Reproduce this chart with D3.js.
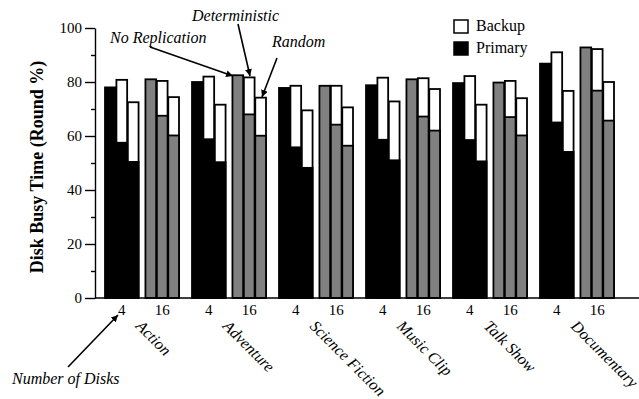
<!DOCTYPE html>
<html>
<head>
<meta charset="utf-8">
<script src="https://cdn.jsdelivr.net/npm/d3@7"></script>
<style>
  body { margin: 0; background: #fff; }
  svg { display: block; font-family: "Liberation Serif", "Times New Roman", serif; }
</style>
</head>
<body>
<svg id="chart" width="639" height="399"></svg>
<script>
// genres along the x axis
const categories = ["Action", "Adventure", "Science Fiction", "Music Clip", "Talk Show", "Documentary"];
const diskCounts = ["4", "16"];
const schemes = ["none", "det", "rand"];

// total busy time (primary + backup), per category: [4 disks, 16 disks]
const noReplication = [[78, 81], [80, 82.5], [77.8, 78.6], [78.8, 81], [79.6, 79.8], [86.8, 92.8]];
const detTotal = [[80.8, 80.4], [82, 81.7], [78.6, 78.6], [81.6, 81.4], [82.2, 80.4], [91, 92.2]];
const detPrimary = [[57.5, 67.5], [58.8, 68], [55.8, 64.2], [58.6, 67.2], [58.5, 67], [65, 76.8]];
const randTotal = [[72.5, 74.4], [71.6, 74.2], [69.5, 70.6], [72.8, 77.4], [71.6, 74], [76.7, 80]];
const randPrimary = [[50.4, 60.2], [50.3, 60.1], [48.2, 56.4], [51, 62], [50.6, 60.2], [54.1, 65.7]];

const yTicks = [0, 20, 40, 60, 80, 100];
const yMinorTicks = [10, 30, 50, 70, 90];

const svg = d3.select("#chart");

const x0 = d3.scaleBand()
    .domain(categories)
    .range([105, 614])
    .paddingInner(13 / 87);

const x1 = d3.scaleBand()
    .domain(diskCounts)
    .range([0, x0.bandwidth()])
    .paddingInner(0.17);

const x2 = d3.scaleBand()
    .domain(schemes)
    .range([0, x1.bandwidth()])
    .paddingInner(0.06);

const y = d3.scaleLinear()
    .domain([0, 100])
    .range([298, 28]);

// flatten into one record per bar
const bars = [];
categories.forEach((cat, i) => {
    diskCounts.forEach((dc, j) => {
        bars.push({ cat, dc, scheme: "none", total: noReplication[i][j], primary: noReplication[i][j] });
        bars.push({ cat, dc, scheme: "det", total: detTotal[i][j], primary: detPrimary[i][j] });
        bars.push({ cat, dc, scheme: "rand", total: randTotal[i][j], primary: randPrimary[i][j] });
    });
});

const primaryFill = dc => dc === "4" ? "#000" : "#808080";
const barX = d => x0(d.cat) + x1(d.dc) + x2(d.scheme);

const barG = svg.append("g")
    .attr("stroke", "#000")
    .attr("stroke-width", 1.8);

// backup part (whole bar white), then primary on top of it
barG.selectAll("rect.backup")
    .data(bars.filter(d => d.scheme !== "none"))
    .join("rect")
    .attr("class", "backup")
    .attr("x", barX)
    .attr("y", d => y(d.total))
    .attr("width", x2.bandwidth())
    .attr("height", d => y(0) - y(d.total))
    .attr("fill", "#fff");

barG.selectAll("rect.primary")
    .data(bars)
    .join("rect")
    .attr("class", "primary")
    .attr("x", barX)
    .attr("y", d => y(d.primary))
    .attr("width", x2.bandwidth())
    .attr("height", d => y(0) - y(d.primary))
    .attr("fill", d => primaryFill(d.dc));

// y axis
const yAxis = svg.append("g")
    .attr("transform", "translate(95,0)")
    .call(d3.axisLeft(y).tickValues(yTicks).tickSize(10).tickSizeOuter(0).tickPadding(3));
yAxis.selectAll("text").attr("font-size", 15).attr("font-family", "Liberation Serif, serif").attr("fill", "#000");
yAxis.selectAll("line, path").attr("stroke", "#000").attr("stroke-width", 1.4);

svg.append("g")
    .attr("transform", "translate(95,0)")
    .call(d3.axisLeft(y).tickValues(yMinorTicks).tickSize(4).tickFormat(""))
    .call(g => g.select(".domain").remove())
    .selectAll("line").attr("stroke", "#000").attr("stroke-width", 1.4);

// x axis line
svg.append("line")
    .attr("x1", 95).attr("x2", 639)
    .attr("y1", y(0)).attr("y2", y(0))
    .attr("stroke", "#000")
    .attr("stroke-width", 1.5);

// disk count labels under each group
categories.forEach(cat => {
    svg.append("g")
        .attr("transform", `translate(${x0(cat)},${y(0)})`)
        .call(d3.axisBottom(x1).tickSize(0).tickPadding(6))
        .call(g => g.select(".domain").remove())
        .selectAll("text")
        .attr("font-size", 15)
        .attr("font-family", "Liberation Serif, serif")
        .attr("fill", "#000");
});

// rotated genre labels
svg.append("g")
    .selectAll("text")
    .data(categories)
    .join("text")
    .attr("transform", d => `translate(${x0(d) + x0.bandwidth() / 2 - 7},327) rotate(45)`)
    .attr("font-size", 16)
    .attr("font-style", "italic")
    .text(d => d);

// y label
svg.append("text")
    .attr("transform", "translate(43,167) rotate(-90)")
    .attr("text-anchor", "middle")
    .attr("font-size", 18)
    .attr("font-weight", "bold")
    .text("Disk Busy Time (Round %)");

// legend
const legend = svg.append("g").attr("transform", "translate(454,20)");
[["Backup", "#fff"], ["Primary", "#000"]].forEach(([name, fill], i) => {
    legend.append("rect")
        .attr("x", 0).attr("y", i * 22)
        .attr("width", 14).attr("height", 13)
        .attr("fill", fill)
        .attr("stroke", "#000")
        .attr("stroke-width", 1.5);
    legend.append("text")
        .attr("x", 22).attr("y", i * 22 + 11)
        .attr("font-size", 16)
        .text(name);
});

// annotations with arrows
svg.append("defs").append("marker")
    .attr("id", "arrow")
    .attr("viewBox", "0 0 10 10")
    .attr("refX", 10).attr("refY", 5)
    .attr("markerWidth", 7).attr("markerHeight", 7)
    .attr("markerUnits", "userSpaceOnUse")
    .attr("orient", "auto")
    .append("path")
    .attr("d", "M0,0L10,5L0,10Z")
    .attr("fill", "#000");

const notes = [
    { text: "No Replication", tx: 110, ty: 43, from: [150, 47], to: [233, 76] },
    { text: "Deterministic", tx: 192, ty: 21, from: [238, 24], to: [250, 76] },
    { text: "Random", tx: 272, ty: 47, from: [277, 58], to: [262, 97] },
    { text: "Number of Disks", tx: 12, ty: 384, from: [68, 367], to: [118, 315] }
];

const noteG = svg.append("g");
noteG.selectAll("text")
    .data(notes)
    .join("text")
    .attr("x", d => d.tx)
    .attr("y", d => d.ty)
    .attr("font-size", 16)
    .attr("font-style", "italic")
    .text(d => d.text);

noteG.selectAll("line")
    .data(notes)
    .join("line")
    .attr("x1", d => d.from[0]).attr("y1", d => d.from[1])
    .attr("x2", d => d.to[0]).attr("y2", d => d.to[1])
    .attr("stroke", "#000")
    .attr("stroke-width", 1.6)
    .attr("marker-end", "url(#arrow)");
</script>
</body>
</html>
